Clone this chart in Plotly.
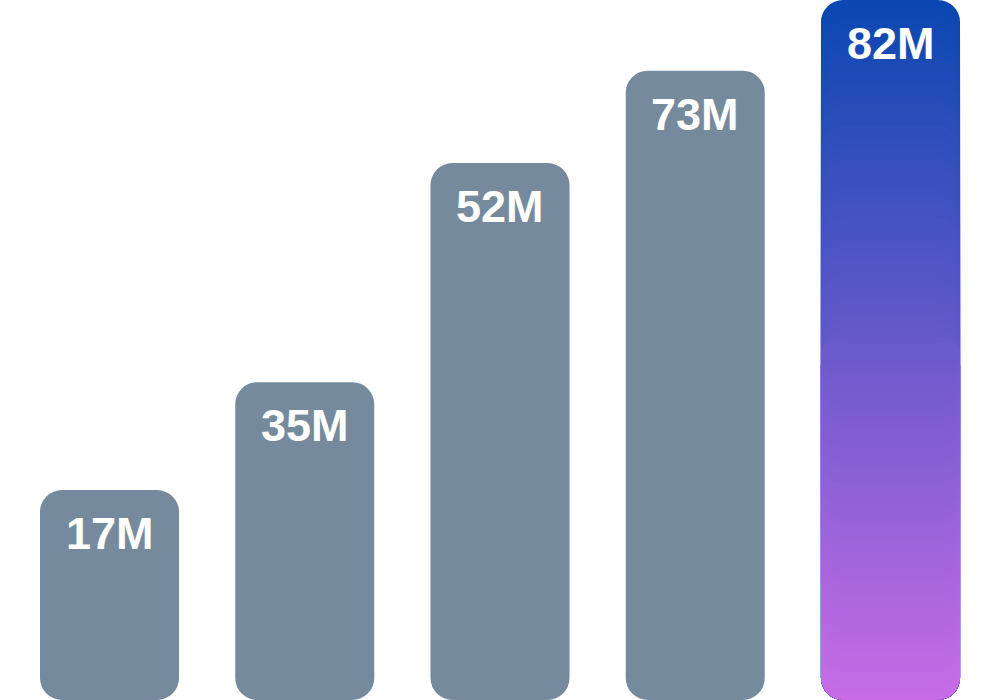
import plotly.graph_objects as go

# ---- data ----
categories = ["A", "B", "C", "D", "E"]
labels = ["17M", "35M", "52M", "73M", "82M"]
bar_heights = [30.0, 45.4, 76.7, 89.9, 100.0]   # relative bar heights (% of tallest)
highlight_index = 4

# ---- styles ----
GREY = "#768a9d"
GRAD_TOP = (10, 71, 177)
GRAD_BOTTOM = (200, 108, 230)
RADIUS = 22
N_STEPS = 100


def grad_color(frac_from_bottom):
    f = max(0.0, min(1.0, frac_from_bottom))
    r = round(GRAD_BOTTOM[0] + (GRAD_TOP[0] - GRAD_BOTTOM[0]) * f)
    g = round(GRAD_BOTTOM[1] + (GRAD_TOP[1] - GRAD_BOTTOM[1]) * f)
    b = round(GRAD_BOTTOM[2] + (GRAD_TOP[2] - GRAD_BOTTOM[2]) * f)
    return f"rgb({r},{g},{b})"


fig = go.Figure()

# plain bars (explicit base -> both ends rounded)
plain = [i for i in range(len(categories)) if i != highlight_index]
fig.add_trace(go.Bar(x=[categories[i] for i in plain],
                     y=[bar_heights[i] for i in plain],
                     base=[0] * len(plain),
                     marker=dict(color=GREY, cornerradius=RADIUS, line=dict(width=0)),
                     hoverinfo="skip"))

# highlighted bar with vertical gradient, built from layered bars
h = bar_heights[highlight_index]
cat = categories[highlight_index]
step = h / N_STEPS
half = N_STEPS // 2
mid = half * step
# upper half: bars from 0 up to decreasing tops (tallest first)
for k in range(half):
    top = h - k * step
    fig.add_trace(go.Bar(x=[cat], y=[top], base=[0],
                         marker=dict(color=grad_color((top - step / 2) / h), cornerradius=RADIUS,
                                     line=dict(width=0)),
                         hoverinfo="skip"))
# lower half: bars from increasing bases up to the middle (longest first)
for k in range(half):
    bot = k * step
    fig.add_trace(go.Bar(x=[cat], y=[mid + step - bot], base=[bot],
                         marker=dict(color=grad_color((bot + step / 2) / h), cornerradius=RADIUS,
                                     line=dict(width=0)),
                         hoverinfo="skip"))

for c, lab, hh in zip(categories, labels, bar_heights):
    fig.add_annotation(x=c, y=hh, text=lab, showarrow=False, yanchor="top", yshift=-16,
                       font=dict(family="Liberation Sans", size=45, color="white", weight="bold"))

fig.update_layout(
    width=1000, height=700,
    margin=dict(l=0, r=0, t=0, b=0),
    barmode="overlay", bargap=0.288,
    showlegend=False,
    paper_bgcolor="white", plot_bgcolor="white",
    xaxis=dict(type="category", categoryorder="array", categoryarray=categories,
               range=[-0.5608, 4.5608], visible=False, fixedrange=True),
    yaxis=dict(range=[0, 100], visible=False, fixedrange=True),
    hovermode=False,
)

fig.write_html("out.html", config={"displayModeBar": False})
